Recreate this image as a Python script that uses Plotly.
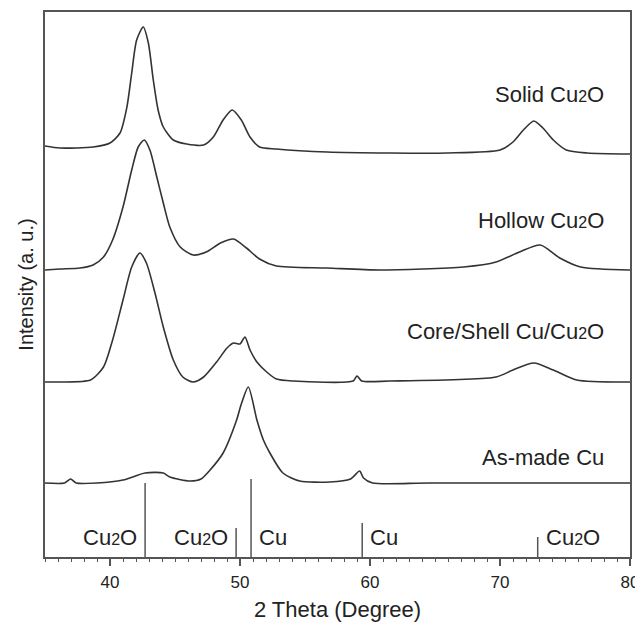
import plotly.graph_objects as go

# ---- data (2θ in degrees, intensity in a.u. incl. vertical offset) ----
solid_x = [35.0, 36.15, 38.7, 40.0, 40.77, 41.3, 41.67, 42.05, 42.56, 42.95, 43.33, 43.7, 44.1, 44.87,
           45.9, 47.2, 47.95, 48.7, 49.4, 50.1, 50.77, 51.5, 52.8, 56.7, 61.5, 65.9, 70.0, 71.0, 71.8,
           72.6, 73.3, 74.1, 75.1, 76.7, 80.0]
solid_y = [411, 409, 410, 414, 424, 450, 484, 517, 530, 514, 477, 447, 430, 417,
           413, 412, 420, 437, 447, 437, 420, 410, 408, 405, 404, 404, 407, 415, 427,
           436, 429, 417, 407, 404, 403]

hollow_x = [35.0, 36.15, 37.7, 38.7, 39.5, 40.2, 41.0, 41.67, 42.17, 42.64, 43.07, 43.6, 44.1, 44.6,
            45.4, 46.4, 47.4, 48.5, 49.5, 50.5, 51.5, 52.8, 56.7, 60.77, 67.2, 69.7, 71.5, 73.1,
            74.6, 76.2, 80.0]
hollow_y = [287, 288, 289, 292, 300, 317, 350, 387, 410, 417, 407, 380, 354, 330,
            310, 302, 305, 314, 318, 309, 298, 291, 289, 287, 290, 295, 305, 312,
            299, 290, 287]

core_x = [35.0, 36.15, 38.5, 39.5, 40.2, 41.0, 41.67, 42.3, 42.8, 43.46, 44.1, 44.87, 45.6, 46.4,
          47.2, 48.2, 49.0, 49.5, 50.0, 50.38, 50.77, 51.3, 52.05, 52.8, 54.1, 58.7, 59.0, 59.36,
          61.5, 69.7, 71.0, 72.6, 74.1, 75.9, 80.0]
core_y = [175, 175, 177, 190, 217, 257, 290, 304, 294, 264, 230, 197, 180, 175,
          180, 195, 209, 214, 213, 220, 207, 195, 185, 178, 176, 176, 181, 176,
          176, 180, 187, 194, 187, 177, 175]

asmade_x = [35.0, 36.5, 36.97, 37.4, 39.0, 41.0, 42.7, 44.1, 44.6, 46.15, 47.0, 47.7, 48.7, 49.74,
            50.1, 50.64, 51.3, 51.8, 52.3, 53.3, 54.6, 56.9, 58.5, 59.2, 59.5, 60.2, 64.6, 80.0]
asmade_y = [74, 74, 78, 74, 74, 77, 84, 84, 80, 76, 78, 87, 104, 137,
            153, 170, 137, 117, 104, 84, 76, 75, 78, 86, 79, 74, 74, 74]

series_names = ["Solid Cu<span style='font-size:16px'>2</span>O",
                "Hollow Cu<span style='font-size:16px'>2</span>O",
                "Core/Shell Cu/Cu<span style='font-size:16px'>2</span>O",
                "As-made Cu"]
label_y = [463, 337, 226, 100]

# reference (standard) peak positions and relative stick heights
ref_pos = [42.7, 49.7, 50.85, 59.4, 72.9]
ref_height = [74, 29, 78, 34, 20]
ref_names = ["Cu<span style='font-size:16px'>2</span>O", "Cu<span style='font-size:16px'>2</span>O",
             "Cu", "Cu", "Cu<span style='font-size:16px'>2</span>O"]
ref_side = ["left", "left", "right", "right", "right"]

x_ticks = [40, 50, 60, 70, 80]

LINE = "#333333"
FRAME = "#555555"
FONT = "Liberation Sans, Arial, sans-serif"

fig = go.Figure()
for xs, ys in [(solid_x, solid_y), (hollow_x, hollow_y), (core_x, core_y), (asmade_x, asmade_y)]:
    fig.add_trace(go.Scatter(x=xs, y=ys, mode="lines",
                             line=dict(color=LINE, width=1.6, shape="spline", smoothing=0.7),
                             showlegend=False, hoverinfo="skip"))

# stick pattern
sx, sy = [], []
for p, h in zip(ref_pos, ref_height):
    sx += [p, p, None]
    sy += [0, h, None]
fig.add_trace(go.Scatter(x=sx, y=sy, mode="lines", line=dict(color=FRAME, width=1.5),
                         showlegend=False, hoverinfo="skip"))

annotations = []
for name, yy in zip(series_names, label_y):
    annotations.append(dict(x=78.15, y=yy, xref="x", yref="y", text=name, showarrow=False,
                            xanchor="right", yanchor="middle",
                            font=dict(family=FONT, size=22, color="#222")))
for p, name, side in zip(ref_pos, ref_names, ref_side):
    annotations.append(dict(x=p, y=19.5, xref="x", yref="y", text=name, showarrow=False,
                            xanchor="right" if side == "left" else "left", yanchor="middle",
                            xshift=-6 if side == "left" else 6,
                            font=dict(family=FONT, size=22, color="#222")))

# the page body adds an 8px offset, so margins are set to land the frame at the reference place
fig.update_layout(
    width=643, height=628,
    margin=dict(l=37, r=21, t=4, b=79),
    paper_bgcolor="white", plot_bgcolor="white",
    font=dict(family=FONT, color="#222"),
    annotations=annotations,
    xaxis=dict(range=[35, 80], tickvals=x_ticks, ticks="outside", ticklen=7, tickwidth=1.5,
               tickcolor=FRAME, showline=True, linecolor=FRAME, linewidth=1.5, mirror=True,
               showgrid=False, zeroline=False, ticklabelstandoff=2, automargin=False,
               tickfont=dict(family=FONT, size=17, color="#222"),
               minor=dict(dtick=1, tick0=35, ticks="outside", ticklen=3.5, tickwidth=1.2,
                          tickcolor=FRAME, showgrid=False),
               title=dict(text="2 Theta (Degree)", font=dict(family=FONT, size=22, color="#222"),
                          standoff=10)),
    yaxis=dict(range=[0, 545], showticklabels=False, ticks="", showline=True, linecolor=FRAME,
               linewidth=1.5, mirror=True, showgrid=False, zeroline=False, automargin=False,
               title=dict(text="Intensity (a. u.)", font=dict(family=FONT, size=20, color="#222"),
                          standoff=4)),
)

fig.write_html("out.html", config={"displayModeBar": False})
